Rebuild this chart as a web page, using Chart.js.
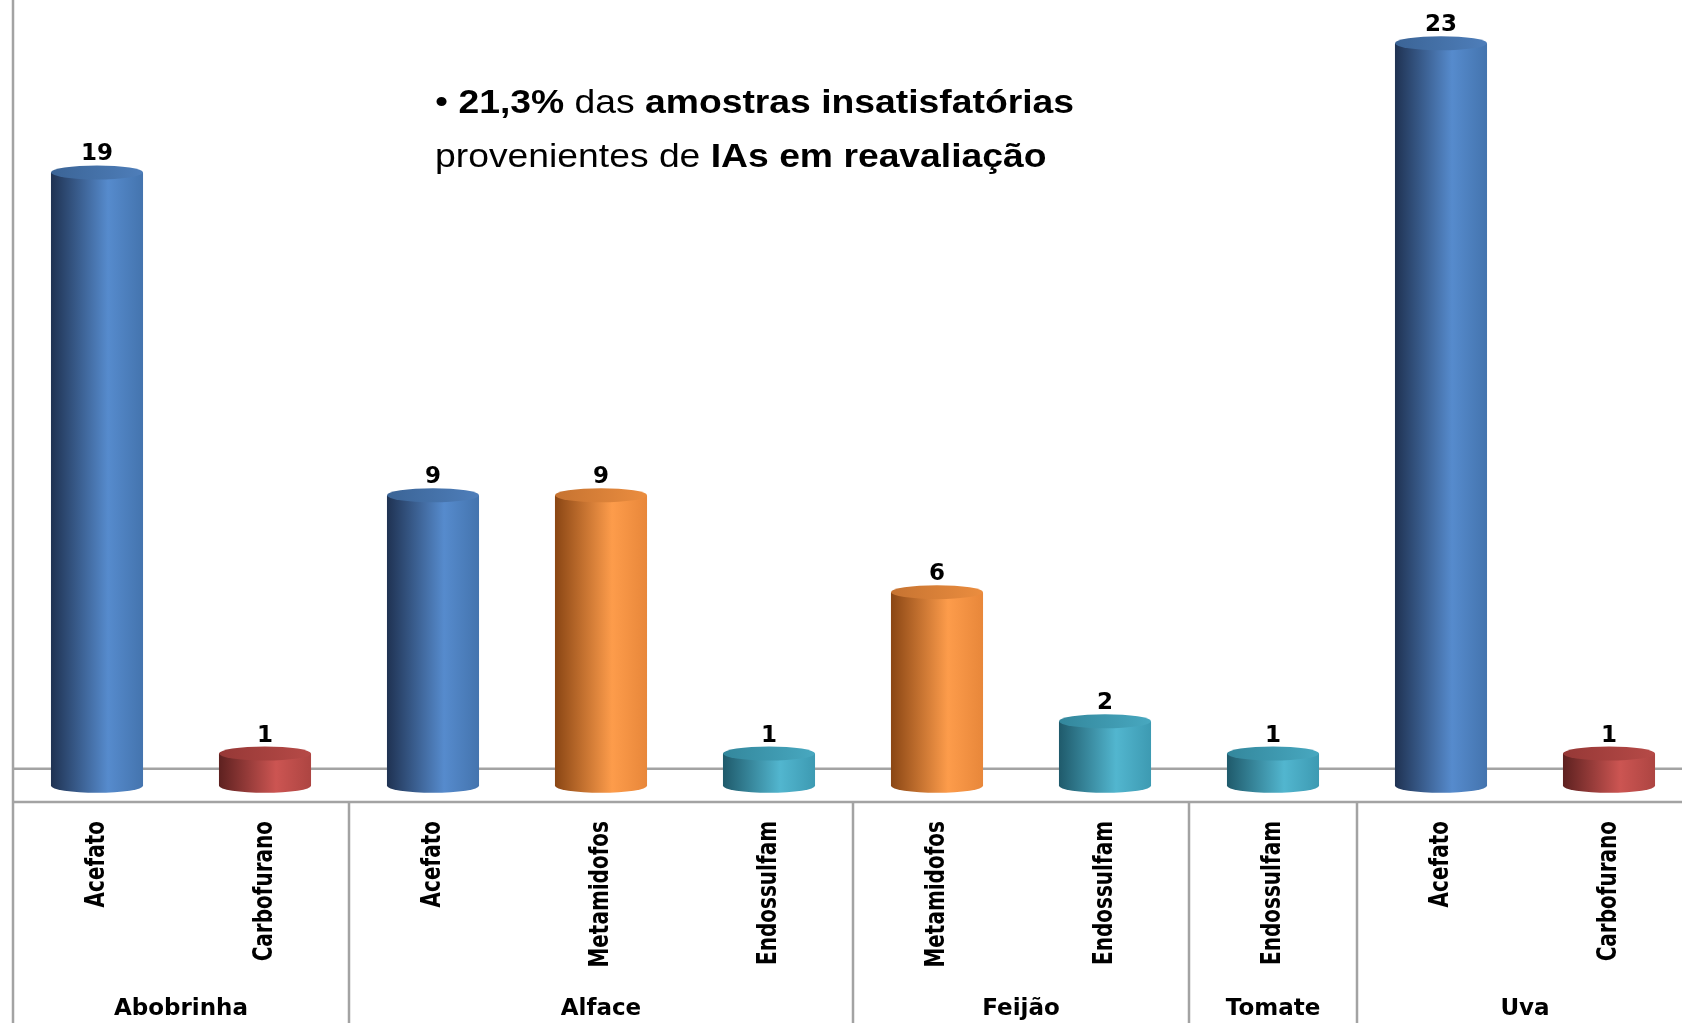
<!DOCTYPE html>
<html>
<head>
<meta charset="utf-8">
<script src="https://cdn.jsdelivr.net/npm/chart.js@4.4.1/dist/chart.umd.min.js"></script>
<style>
  html,body{margin:0;padding:0;background:#fff;overflow:hidden;}
  #wrap{position:relative;width:1700px;height:1023px;}
  #note{
    position:absolute;left:435px;top:75px;
    font-family:"Liberation Sans",Arial,sans-serif;
    font-size:33px;line-height:54px;color:#000;white-space:nowrap;
    transform:scaleX(1.13);transform-origin:left top;
  }
  #note b{font-weight:bold;}
</style>
</head>
<body>
<div id="wrap">
  <canvas id="chart"></canvas>
  <div id="note">• <b>21,3%</b> das <b>amostras insatisfatórias</b><br>provenientes de <b>IAs em reavaliação</b></div>
</div>
<script>

// ===== DATA =====
const categories = ["Acefato","Carbofurano","Acefato","Metamidofos","Endossulfam","Metamidofos","Endossulfam","Endossulfam","Acefato","Carbofurano"];
const values     = [19, 1, 9, 9, 1, 6, 2, 1, 23, 1];
const groups     = ["Abobrinha","Alface","Feijão","Tomate","Uva"];
const groupSizes = [2, 3, 2, 1, 2];

// cylinder shading: [dark edge, highlight, right edge, cap dark, cap light]
const palette = {
    Acefato:     ["#1f3252","#568bcd","#4474ae","#3b6496","#4e7eba"],
    Carbofurano: ["#5e2120","#cc5552","#ad4542","#963836","#b64a47"],
    Metamidofos: ["#8a4614","#fd9c4b","#e8873a","#c67331","#eb8d3f"],
    Endossulfam: ["#1f5a6b","#52b6cf","#3d9ab2","#33879c","#48a8c0"]
};

const RY = 7;
const LINE = "#a3a3a3";
const FONT = "'DejaVu Sans', Verdana, sans-serif";

function line(ctx,x1,y1,x2,y2){
    ctx.beginPath();
    ctx.moveTo(x1,y1);
    ctx.lineTo(x2,y2);
    ctx.stroke();
}

const cylinderPlugin = {

    id:"cylinders",

    beforeDatasetsDraw(chart){

        const {ctx, chartArea, scales:{x,y}} = chart;

        ctx.save();
        ctx.strokeStyle = LINE;
        ctx.lineWidth = 2.5;

        // back wall floor line
        const yBack = y.getPixelForValue(0) - 17;
        line(ctx, chartArea.left, yBack, chart.width, yBack);

        // category axis
        line(ctx, chartArea.left, chartArea.bottom, chart.width, chartArea.bottom);

        // left axis
        line(ctx, chartArea.left, 0, chartArea.left, chart.height);

        // group separators
        let idx = 0;
        groupSizes.forEach(n=>{
            idx += n;
            if(idx < categories.length){
                const bx = (x.getPixelForValue(idx-1) + x.getPixelForValue(idx)) / 2;
                line(ctx, bx, chartArea.bottom, bx, chart.height);
            }
        });

        ctx.restore();
    },

    afterDatasetsDraw(chart){

        const {ctx} = chart;
        const meta = chart.getDatasetMeta(0);

        ctx.save();

        meta.data.forEach((bar,i)=>{

            const p = bar.getProps(["x","y","base","width"], true);
            const cols = palette[categories[i]];
            const rx = p.width / 2;
            const left = p.x - rx;

            const g = ctx.createLinearGradient(left,0,left+p.width,0);
            g.addColorStop(0, cols[0]);
            g.addColorStop(0.62, cols[1]);
            g.addColorStop(1, cols[2]);

            ctx.beginPath();
            ctx.moveTo(left, p.y);
            ctx.lineTo(left, p.base);
            ctx.ellipse(p.x, p.base, rx, RY, 0, Math.PI, 0, true);
            ctx.lineTo(left + p.width, p.y);
            ctx.closePath();
            ctx.fillStyle = g;
            ctx.fill();

            const gc = ctx.createLinearGradient(left,0,left+p.width,0);
            gc.addColorStop(0, cols[3]);
            gc.addColorStop(1, cols[4]);

            ctx.beginPath();
            ctx.ellipse(p.x, p.y, rx, RY, 0, 0, Math.PI*2);
            ctx.fillStyle = gc;
            ctx.fill();

            ctx.fillStyle = "#000";
            ctx.font = "bold 23px " + FONT;
            ctx.textAlign = "center";
            ctx.textBaseline = "alphabetic";
            ctx.fillText(String(values[i]), p.x, p.y - RY - 5);
        });

        ctx.restore();
    },

    afterDraw(chart){

        const {ctx, chartArea, scales:{x}} = chart;

        ctx.save();
        ctx.fillStyle = "#000";

        // rotated category labels (stretched like the original)
        ctx.font = "bold 20px " + FONT;
        ctx.textAlign = "right";
        ctx.textBaseline = "middle";

        categories.forEach((name,i)=>{
            ctx.save();
            ctx.translate(x.getPixelForValue(i), chartArea.bottom + 19);
            ctx.scale(1.3, 1);
            ctx.rotate(-Math.PI/2);
            ctx.fillText(name, 0, 0);
            ctx.restore();
        });

        // group labels
        ctx.font = "bold 23px " + FONT;
        ctx.textAlign = "center";
        ctx.textBaseline = "middle";

        let start = 0;
        groups.forEach((name,gi)=>{
            const end = start + groupSizes[gi] - 1;
            const cx = (x.getPixelForValue(start) + x.getPixelForValue(end)) / 2;
            ctx.fillText(name, cx, 1009);
            start = end + 1;
        });

        ctx.restore();
    }
};

new Chart(document.getElementById("chart"),{

    type:"bar",

    data:{
        labels:categories,
        datasets:[{
            data:values,
            backgroundColor:"rgba(0,0,0,0)",
            borderWidth:0,
            barPercentage:0.548,
            categoryPercentage:1
        }]
    },

    options:{
        responsive:true,
        maintainAspectRatio:false,
        animation:false,
        layout:{
            padding:{left:13, right:7, top:11, bottom:0}
        },
        plugins:{
            legend:{display:false},
            tooltip:{enabled:false}
        },
        scales:{
            x:{
                grid:{display:false, drawTicks:false},
                border:{display:false},
                ticks:{display:false},
                afterFit(scale){
                    scale.height = 221;
                }
            },
            y:{
                display:false,
                min:-0.5,
                max:24
            }
        }
    },

    plugins:[cylinderPlugin]

});

</script>
</body>
</html>
